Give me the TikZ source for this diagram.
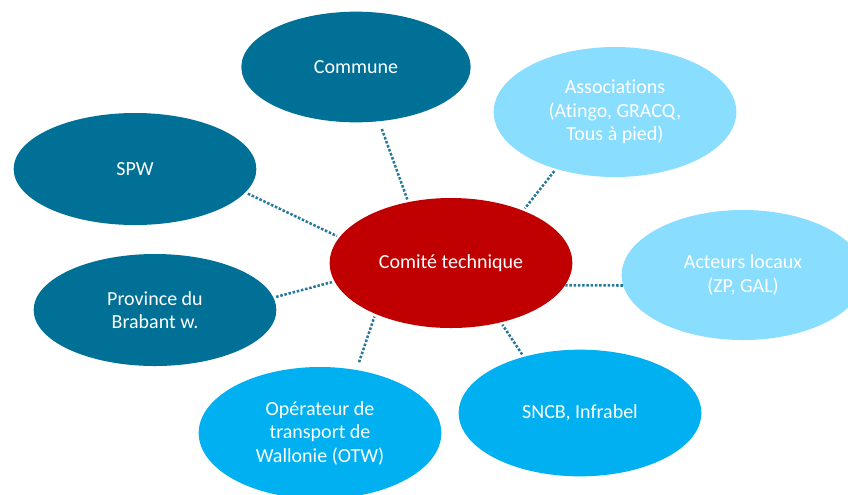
\documentclass[tikz,border=0pt]{standalone}
\usepackage{fontspec}
\setmainfont{Carlito}[Ligatures=NoCommon]
\usetikzlibrary{shapes.geometric}
\definecolor{petrol}{RGB}{0,112,150}
\definecolor{rouge}{RGB}{192,0,0}
\definecolor{ciel}{RGB}{137,221,255}
\definecolor{azur}{RGB}{0,176,240}
\definecolor{lien}{RGB}{40,120,155}
\begin{document}
\begin{tikzpicture}[x=0.75pt, y=-0.75pt,
		bulle/.style={ellipse, draw=none, text=white, align=center, inner sep=0pt,
			font=\fontsize{15}{17.6}\selectfont, minimum width=182pt, minimum height=84pt},
		haute/.style={minimum height=97.5pt},
		lien/.style={draw=lien, line width=1.9pt, dash pattern=on 1.9pt off 1.3pt, shorten <=2pt, shorten >=2pt}]
		\useasboundingbox (0,0) rectangle (848,494);
		\clip (0,0) rectangle (848,494);
		\node[bulle, fill=rouge, haute] (comite) at (451,263) {Comité technique};
		\node[bulle, fill=petrol, minimum width=172pt, minimum height=83pt] (commune) at (356,67) {Commune};
		\node[bulle, fill=petrol] (spw) at (135,169) {SPW};
		\node[bulle, fill=petrol] (province) at (155,310) {Province du\\Brabant w.};
		\node[bulle, fill=ciel, haute] (assoc) at (615,112) {Associations\\(Atingo, GRACQ,\\Tous à pied)};
		\node[bulle, fill=ciel, haute] (acteurs) at (743,275) {Acteurs locaux\\(ZP, GAL)};
		\node[bulle, fill=azur, minimum height=95pt] (sncb) at (580,413) {SNCB, Infrabel};
		\node[bulle, fill=azur, minimum height=99pt] (otw) at (320,433) {Opérateur de\\transport de\\Wallonie (OTW)};
		\draw[lien, shorten <=6pt] (commune.-67) -- (comite.125);
		\draw[lien] (assoc.-136) -- (comite.36);
		\draw[lien] (spw.-12) -- (comite.167);
		\draw[lien] (province.6) -- (comite.189);
		\draw[lien, shorten <=0pt, shorten >=0pt] (acteurs.185) -- (comite.-11);
		\draw[lien] (sncb.135) -- (comite.-50);
		\draw[lien, shorten <=6pt] (otw.60) -- (comite.-146);
		\end{tikzpicture}
\end{document}
